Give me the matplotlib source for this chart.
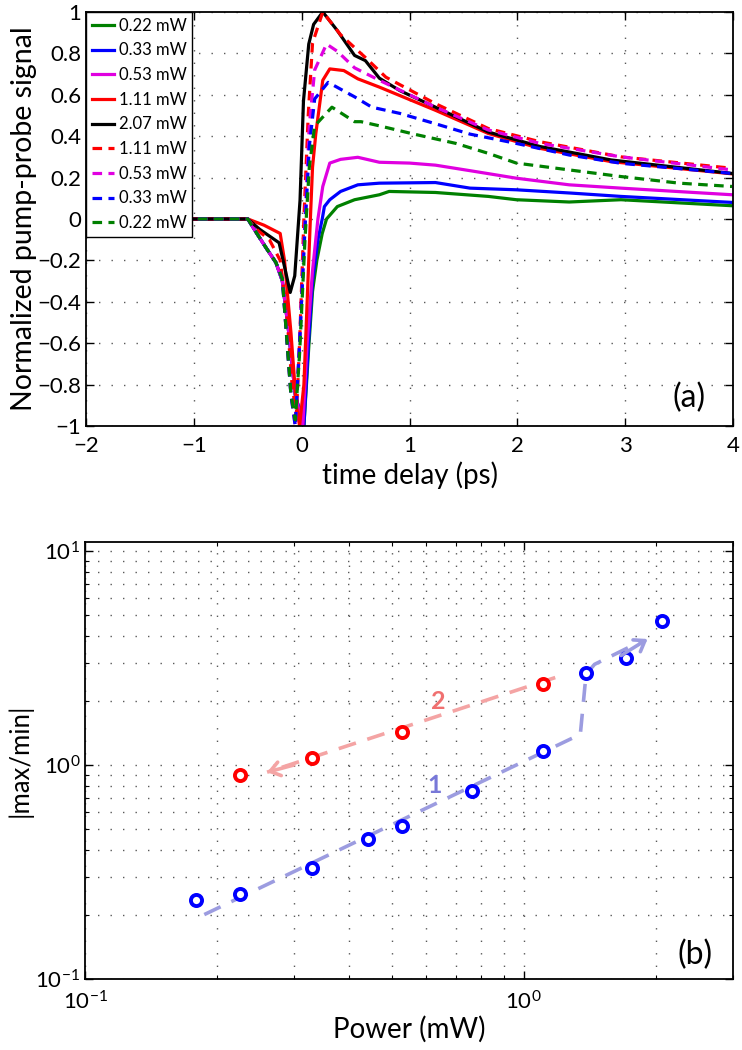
import matplotlib
matplotlib.use("Agg")
import matplotlib.pyplot as plt
from matplotlib.ticker import FuncFormatter, LogLocator

plt.rcParams['font.family'] = ['Lato', 'DejaVu Sans']
plt.rcParams['mathtext.fontset'] = 'custom'
plt.rcParams['mathtext.rm'] = 'Lato'
plt.rcParams['mathtext.it'] = 'Lato:italic'

# ---- panel (a): normalized pump-probe traces ----
t_g = [-2, -0.5, -0.42, -0.33, -0.24, -0.18, -0.12, -0.06, 0.02, 0.065, 0.1, 0.14, 0.19, 0.23, 0.33,
       0.49, 0.72, 0.81, 1.24, 1.73, 1.99, 2.48, 2.96, 3.99]
v_g = [0, 0, -0.067, -0.14, -0.21, -0.3, -0.55, -0.85, -1.0, -0.62, -0.35, -0.2, -0.07, 0.0, 0.06,
       0.093, 0.117, 0.133, 0.128, 0.109, 0.093, 0.082, 0.093, 0.064]

t_b = [-2, -0.5, -0.42, -0.33, -0.24, -0.18, -0.12, -0.06, 0.02, 0.06, 0.1, 0.15, 0.19, 0.21, 0.26,
       0.36, 0.52, 0.72, 1.24, 1.56, 1.99, 2.5, 2.96, 3.99]
v_b = [0, 0, -0.067, -0.14, -0.21, -0.3, -0.55, -0.85, -1.0, -0.62, -0.3, -0.1, 0.0, 0.06, 0.093,
       0.133, 0.165, 0.173, 0.176, 0.149, 0.141, 0.125, 0.109, 0.08]

t_m = [-2, -0.5, -0.42, -0.33, -0.24, -0.18, -0.12, -0.06, 0.01, 0.05, 0.1, 0.15, 0.195, 0.26, 0.36,
       0.52, 0.72, 1.0, 1.24, 1.6, 1.99, 2.48, 2.96, 3.99]
v_m = [0, 0, -0.067, -0.14, -0.21, -0.3, -0.55, -0.85, -1.0, -0.6, -0.25, 0.0, 0.157, 0.27, 0.288,
       0.298, 0.274, 0.27, 0.26, 0.23, 0.197, 0.165, 0.149, 0.117]

t_r = [-2, -0.5, -0.35, -0.2, -0.16, -0.1, -0.05, -0.02, 0.02, 0.05, 0.08, 0.1, 0.13, 0.195, 0.26,
       0.39, 0.52, 0.72, 1.24, 1.73, 2.21, 2.87, 3.99]
v_r = [0, 0, -0.03, -0.07, -0.2, -0.55, -0.9, -1.0, -0.8, -0.4, 0.0, 0.25, 0.41, 0.67, 0.725,
       0.717, 0.677, 0.637, 0.525, 0.413, 0.341, 0.277, 0.218]

t_k = [-2, -0.5, -0.39, -0.21, -0.16, -0.107, -0.065, -0.016, 0.016, 0.065, 0.11, 0.195, 0.33, 0.49,
       0.59, 0.72, 0.91, 1.24, 1.73, 2.21, 2.87, 3.99]
v_k = [0, 0, -0.05, -0.115, -0.23, -0.355, -0.275, 0.09, 0.57, 0.845, 0.94, 1.0, 0.91, 0.79,
       0.765, 0.68, 0.62, 0.54, 0.42, 0.35, 0.285, 0.22]

t_rd = [-2, -0.5, -0.42, -0.3, -0.2, -0.14, -0.09, -0.05, -0.02, 0.02, 0.06, 0.1, 0.195, 0.36, 0.59,
        0.78, 1.24, 1.73, 2.21, 2.96, 3.99]
v_rd = [0, 0, -0.05, -0.1, -0.2, -0.45, -0.8, -0.95, -0.6, 0.0, 0.5, 0.85, 1.0, 0.89, 0.78,
        0.685, 0.557, 0.437, 0.373, 0.30, 0.245]

t_md = [-2, -0.5, -0.42, -0.33, -0.24, -0.18, -0.15, -0.1, -0.06, -0.02, 0.03, 0.07, 0.12, 0.23,
        0.33, 0.49, 0.72, 1.24, 1.73, 2.21, 2.96, 3.99]
v_md = [0, 0, -0.067, -0.14, -0.21, -0.29, -0.5, -0.85, -1.0, -0.6, 0.0, 0.45, 0.72, 0.845,
        0.81, 0.73, 0.67, 0.54, 0.43, 0.365, 0.30, 0.237]

t_bd = [-2, -0.5, -0.42, -0.33, -0.24, -0.18, -0.15, -0.1, -0.06, -0.02, 0.03, 0.07, 0.12, 0.245,
        0.49, 0.65, 0.91, 1.24, 1.56, 1.99, 2.48, 2.96, 3.99]
v_bd = [0, 0, -0.067, -0.14, -0.21, -0.29, -0.5, -0.85, -1.0, -0.6, -0.05, 0.35, 0.58, 0.66,
        0.59, 0.54, 0.51, 0.46, 0.41, 0.365, 0.309, 0.269, 0.22]

t_gd = [-2, -0.5, -0.42, -0.33, -0.24, -0.18, -0.15, -0.1, -0.06, -0.02, 0.03, 0.07, 0.12, 0.28,
        0.4, 0.49, 0.55, 0.72, 1.04, 1.43, 1.73, 1.99, 2.48, 2.96, 3.5, 3.99]
v_gd = [0, 0, -0.067, -0.14, -0.21, -0.29, -0.5, -0.85, -0.97, -0.65, -0.1, 0.25, 0.45, 0.54,
        0.5, 0.47, 0.47, 0.45, 0.41, 0.365, 0.317, 0.27, 0.237, 0.205, 0.173, 0.157]

labels_a = ['0.22 mW', '0.33 mW', '0.53 mW', '1.11 mW', '2.07 mW',
            '1.11 mW', '0.53 mW', '0.33 mW', '0.22 mW']

# ---- panel (b): |max/min| vs power ----
p_up = [0.179, 0.226, 0.329, 0.441, 0.527, 0.764, 1.109, 1.387, 1.712, 2.063]
r_up = [0.233, 0.249, 0.33, 0.453, 0.521, 0.754, 1.16, 2.70, 3.15, 4.72]
p_down = [1.109, 0.527, 0.329, 0.226]
r_down = [2.38, 1.43, 1.08, 0.896]

# guide paths (sweep 1 up, sweep 2 down)
path1_x = [0.187, 1.346, 1.387, 1.45, 1.86]
path1_y = [0.20, 1.39, 2.65, 2.95, 3.80]
path2_x = [1.18, 0.26]
path2_y = [2.56, 0.925]

green = '#008000'
blue = '#0000ff'
mag = '#e000e0'
red = '#ff0000'


def minus(v, pos):
    return f'{v:g}'.replace('-', '\u2212')


fig = plt.figure(figsize=(7.42, 10.5), dpi=100)
ax1 = fig.add_axes([0.116, 0.5943, 0.872, 0.3943])
ax2 = fig.add_axes([0.1146, 0.0676, 0.8733, 0.4162])

lw = 2.3
dsh = (3, 2)
ax1.plot(t_g, v_g, color=green, lw=lw, label=labels_a[0])
ax1.plot(t_b, v_b, color=blue, lw=lw, label=labels_a[1])
ax1.plot(t_m, v_m, color=mag, lw=lw, label=labels_a[2])
ax1.plot(t_r, v_r, color=red, lw=lw, label=labels_a[3])
ax1.plot(t_k, v_k, color='k', lw=lw, label=labels_a[4])
ax1.plot(t_rd, v_rd, color=red, lw=lw, dashes=dsh, label=labels_a[5])
ax1.plot(t_md, v_md, color=mag, lw=lw, dashes=dsh, label=labels_a[6])
ax1.plot(t_bd, v_bd, color=blue, lw=lw, dashes=dsh, label=labels_a[7])
ax1.plot(t_gd, v_gd, color=green, lw=lw, dashes=dsh, label=labels_a[8])

ax1.set_xlim(-2, 4)
ax1.set_ylim(-1, 1)
ax1.set_xticks(range(-2, 5))
ax1.set_yticks([-1, -0.8, -0.6, -0.4, -0.2, 0, 0.2, 0.4, 0.6, 0.8, 1])
ax1.xaxis.set_major_formatter(FuncFormatter(minus))
ax1.yaxis.set_major_formatter(FuncFormatter(minus))
ax1.grid(True, color='0.35', linestyle=(0, (1, 8)), lw=1)
ax1.set_xlabel('time delay (ps)', fontsize=20, labelpad=4)
ax1.set_ylabel('Normalized pump-probe signal', fontsize=20.5, labelpad=0)
ax1.text(0.957, 0.03, '(a)', transform=ax1.transAxes, ha='right', va='bottom', fontsize=23)
leg = ax1.legend(loc='upper left', fontsize=12, handlelength=1.3, handletextpad=0.3,
                 labelspacing=0.52, borderpad=0.35, borderaxespad=0, fancybox=False,
                 framealpha=1)
leg.get_frame().set_edgecolor('k')
leg.get_frame().set_linewidth(1)

ax2.set_xscale('log')
ax2.set_yscale('log')
ax2.plot(path1_x, path1_y, color='#9c9ce0', lw=2.6, dashes=(5, 3.3))
ax2.plot(path2_x, path2_y, color='#f4a4a4', lw=2.6, dashes=(5, 3.3))
ax2.annotate('', xy=(path1_x[-1] * 1.03, path1_y[-1] * 1.02), xytext=(path1_x[-2] * 1.15, path1_y[-2] * 1.1),
             arrowprops=dict(arrowstyle='->,head_length=0.7,head_width=0.5', color='#9c9ce0', lw=2.6,
                             shrinkA=0, shrinkB=0))
ax2.annotate('', xy=(path2_x[-1], path2_y[-1]), xytext=(path2_x[-1] * 1.15, path2_y[-1] * 1.08),
             arrowprops=dict(arrowstyle='->,head_length=0.7,head_width=0.5', color='#f4a4a4', lw=2.6,
                             shrinkA=0, shrinkB=0))
ax2.plot(p_up, r_up, 'o', color=blue, mfc='white', mew=2.8, ms=8)
ax2.plot(p_down, r_down, 'o', color=red, mfc='white', mew=2.8, ms=8)
ax2.text(0.625, 0.8, '1', color='#7878d8', fontsize=18, fontweight='bold', ha='center', va='center')
ax2.text(0.64, 1.97, '2', color='#f07070', fontsize=18, fontweight='bold', ha='center', va='center')

ax2.set_xlim(0.1, 3)
ax2.set_ylim(0.1, 11)
ax2.xaxis.set_major_locator(LogLocator(base=10, numticks=10))
ax2.yaxis.set_major_locator(LogLocator(base=10, numticks=10))
ax2.grid(True, which='both', color='0.35', linestyle=(0, (1, 8)), lw=1)
ax2.set_xlabel('Power (mW)', fontsize=20, labelpad=2)
ax2.set_ylabel('|max/min|', fontsize=18.5, labelpad=2)
ax2.text(0.969, 0.02, '(b)', transform=ax2.transAxes, ha='right', va='bottom', fontsize=23)

for ax in (ax1, ax2):
    ax.tick_params(which='both', direction='in', top=True, right=True, labelsize=16)
    ax.tick_params(which='major', length=6, width=1)
    ax.tick_params(which='minor', length=3, width=0.8)
    for s in ax.spines.values():
        s.set_linewidth(1.3)
ax1.tick_params(axis='x', pad=7)
ax2.tick_params(axis='x', pad=8)

fig.savefig('out.png', dpi=100)
